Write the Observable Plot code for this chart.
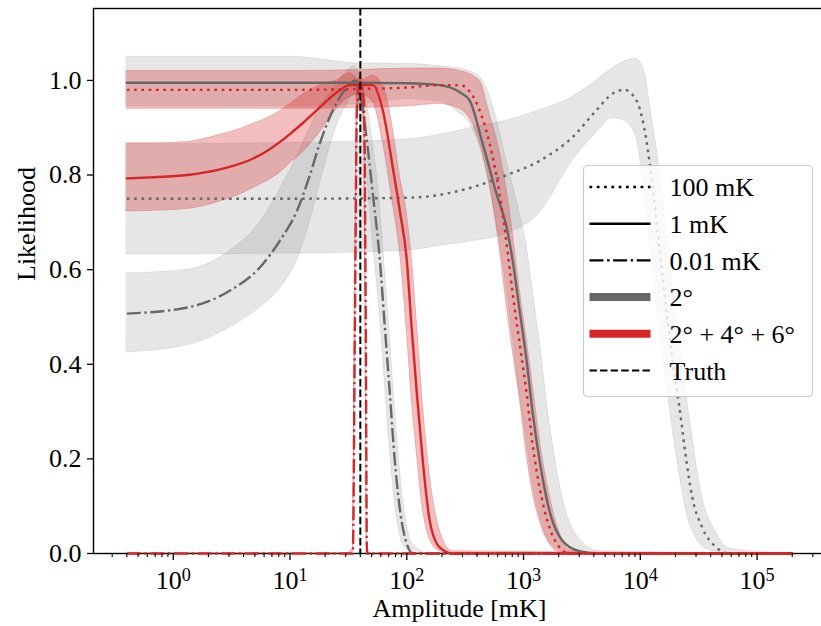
<!DOCTYPE html>
<html>
<head>
<meta charset="utf-8">
<script src="https://cdn.jsdelivr.net/npm/d3@7"></script>
<script src="https://cdn.jsdelivr.net/npm/@observablehq/plot@0.6"></script>
<style>
  body { margin: 0; background: #fff; }
  #wrap { position: relative; width: 821px; height: 626px; overflow: hidden; background: #fff; }
  #legend { position: absolute; left: 0; top: 0; }
</style>
</head>
<body>
<div id="wrap"><div id="chart"></div></div>
<script>
// ---------------- data ----------------
// 2°, 100 mK (gray dotted)
const gDot_x  = [0.4, 12.2, 100, 191, 363, 716, 1371, 2624, 4210, 5770, 7300, 9250, 10800, 12400, 14500, 17000, 19500, 21600, 24700, 27800, 33900, 44700, 57700, 2e5];
const gDot_y  = [0.75, 0.75, 0.752, 0.758, 0.774, 0.80, 0.83, 0.88, 0.937, 0.972, 0.98, 0.958, 0.90, 0.80, 0.65, 0.50, 0.38, 0.31, 0.20, 0.12, 0.055, 0.013, 0, 0];
const gDot_hi = [0.865, 0.868, 0.875, 0.885, 0.90, 0.915, 0.937, 0.965, 1.0, 1.025, 1.04, 1.045, 1.02, 0.93, 0.82, 0.67, 0.54, 0.45, 0.34, 0.25, 0.12, 0.045, 0.01, 0];
const gDot_lo = [0.632, 0.634, 0.64, 0.65, 0.66, 0.676, 0.72, 0.83, 0.89, 0.92, 0.915, 0.88, 0.76, 0.63, 0.48, 0.35, 0.24, 0.17, 0.09, 0.05, 0.015, 0.003, 0, 0];

// 2°, 1 mK (gray solid)
const gSol_x  = [0.4, 1, 10, 40, 100, 191, 284, 345, 446, 587, 716, 806, 925, 1062, 1194, 1371, 1667, 2154, 3010, 4470, 2e5];
const gSol_y  = [0.995, 0.995, 0.995, 0.995, 0.994, 0.99, 0.975, 0.958, 0.867, 0.76, 0.69, 0.62, 0.514, 0.408, 0.30, 0.197, 0.09, 0.027, 0.005, 0, 0];
const gSol_hi = [1.05, 1.05, 1.05, 1.036, 1.035, 1.03, 1.025, 1.02, 1.0, 0.92, 0.83, 0.78, 0.72, 0.65, 0.56, 0.45, 0.28, 0.12, 0.03, 0.005, 0];
const gSol_lo = [0.945, 0.945, 0.945, 0.95, 0.96, 0.955, 0.93, 0.91, 0.84, 0.70, 0.56, 0.46, 0.34, 0.24, 0.15, 0.08, 0.025, 0.005, 0, 0, 0];

// 2°, 0.01 mK (gray dash-dot)
const gDD_x  = [0.4, 1.32, 3.07, 5.54, 8.22, 11.5, 14.8, 18.0, 23.3, 30.7, 35.9, 38.2, 42.0, 51.2, 58.8, 64.9, 71.6, 78.9, 92.4, 113, 157, 2e5];
const gDD_y  = [0.507, 0.52, 0.556, 0.605, 0.662, 0.725, 0.80, 0.867, 0.937, 0.985, 1.0, 0.99, 0.937, 0.76, 0.62, 0.478, 0.338, 0.197, 0.055, 0, 0, 0];
const gDD_hi = [0.592, 0.60, 0.64, 0.70, 0.77, 0.84, 0.90, 0.945, 0.98, 1.02, 1.03, 1.02, 0.99, 0.87, 0.74, 0.60, 0.46, 0.31, 0.12, 0.02, 0, 0];
const gDD_lo = [0.425, 0.44, 0.478, 0.52, 0.56, 0.62, 0.70, 0.78, 0.88, 0.95, 0.97, 0.95, 0.88, 0.66, 0.50, 0.36, 0.22, 0.11, 0.02, 0, 0, 0];

// 2° + 4° + 6°, 100 mK (red dotted)
const rDot_x  = [0.4, 1, 10, 40, 100, 191, 284, 420, 512, 624, 716, 806, 925, 1062, 1194, 1371, 1667, 2032, 2472, 4470, 2e5];
const rDot_y  = [0.98, 0.98, 0.98, 0.982, 0.985, 0.99, 0.99, 0.937, 0.867, 0.76, 0.655, 0.55, 0.444, 0.338, 0.232, 0.14, 0.055, 0.013, 0, 0, 0];
const rDot_hi = [1.02, 1.02, 1.02, 1.022, 1.025, 1.025, 1.02, 1.0, 0.93, 0.85, 0.77, 0.68, 0.56, 0.455, 0.36, 0.245, 0.125, 0.045, 0.008, 0, 0];
const rDot_lo = [0.94, 0.94, 0.94, 0.942, 0.945, 0.95, 0.94, 0.87, 0.78, 0.645, 0.525, 0.43, 0.33, 0.21, 0.13, 0.07, 0.02, 0.003, 0, 0, 0];

// 2° + 4° + 6°, 1 mK (red solid)
const rSol_x  = [0.4, 0.636, 1.32, 2.52, 3.52, 4.83, 6.35, 8.22, 10.6, 12.9, 18.0, 25.2, 32.6, 40.4, 51.2, 62.3, 75.9, 87.1, 100, 110, 122, 137, 157, 191, 247, 2e5];
const rSol_y  = [0.793, 0.795, 0.80, 0.812, 0.822, 0.835, 0.851, 0.87, 0.892, 0.91, 0.943, 0.975, 0.99, 0.99, 0.99, 0.937, 0.816, 0.725, 0.62, 0.478, 0.338, 0.197, 0.07, 0.013, 0, 0];
const rSol_hi = [0.867, 0.867, 0.87, 0.885, 0.895, 0.908, 0.92, 0.935, 0.955, 0.97, 0.99, 1.0, 1.015, 1.0, 1.01, 0.99, 0.90, 0.80, 0.72, 0.63, 0.49, 0.32, 0.17, 0.05, 0.005, 0];
const rSol_lo = [0.723, 0.724, 0.728, 0.744, 0.756, 0.772, 0.787, 0.805, 0.83, 0.848, 0.89, 0.94, 0.965, 0.97, 0.955, 0.87, 0.74, 0.64, 0.47, 0.33, 0.21, 0.095, 0.03, 0.005, 0, 0];

// 2° + 4° + 6°, 0.01 mK (red dash-dot)
const rDD_x  = [0.4, 30, 34.5, 36, 37.5, 40, 43, 44.5, 45.6, 50, 2e5];
const rDD_y  = [0, 0, 0, 0.5, 0.95, 0.995, 0.95, 0.5, 0, 0, 0];
const rDD_hi = [0, 0, 0.01, 0.6, 0.98, 1.01, 0.98, 0.6, 0.01, 0, 0];
const rDD_lo = [0, 0, 0, 0.4, 0.9, 0.97, 0.9, 0.4, 0, 0, 0];

const truthAmplitude = [40];

const xMajorTicks = [1, 10, 100, 1e3, 1e4, 1e5];
const xMinorMantissas = [2, 3, 4, 5, 6, 7, 8, 9];
const xMinorDecades = [0.1, 1, 10, 100, 1e3, 1e4, 1e5];
const yTicks = [0, 0.2, 0.4, 0.6, 0.8, 1.0];

const legendLabels = ["100 mK", "1 mK", "0.01 mK", "2°", "2° + 4° + 6°", "Truth"];
const xLabel = "Amplitude [mK]";
const yLabel = "Likelihood";

// ---------------- styling ----------------
const GRAY = "#676767", RED = "#d62728";
const DOT = "2.7,4.6", DASHDOT = "14,3.6,2.4,3.6", DASH = "7.4,3.2";
const FONT = "'Liberation Serif', 'DejaVu Serif', serif";
const FS = 26;

const rows = (xs, ys, lo, hi) => xs.map((x, i) => ({x, y: ys[i], lo: lo[i], hi: hi[i]}));
const series = [
  {d: rows(gDot_x, gDot_y, gDot_lo, gDot_hi), color: GRAY, dash: DOT, cap: "butt", band: 0.2},
  {d: rows(gSol_x, gSol_y, gSol_lo, gSol_hi), color: GRAY, dash: null, cap: "round", band: 0.2},
  {d: rows(gDD_x, gDD_y, gDD_lo, gDD_hi), color: GRAY, dash: DASHDOT, cap: "butt", band: 0.2},
  {d: rows(rDot_x, rDot_y, rDot_lo, rDot_hi), color: RED, dash: DOT, cap: "butt", band: 0.3},
  {d: rows(rSol_x, rSol_y, rSol_lo, rSol_hi), color: RED, dash: null, cap: "round", band: 0.3},
  {d: rows(rDD_x, rDD_y, rDD_lo, rDD_hi), color: RED, dash: DASHDOT, cap: "butt", band: 0.3}
];

const xMinorTicks = xMinorDecades.flatMap(dec => xMinorMantissas.map(m => m * dec))
  .filter(v => v > 0.2075 && v < 3.855e5);

const bandMarks = series.map(s => Plot.areaY(s.d, {
  x: "x", y1: "lo", y2: "hi", curve: "monotone-x",
  fill: s.color === RED ? RED : "#808080", fillOpacity: s.band,
  stroke: s.color === RED ? RED : "#808080", strokeOpacity: s.band * 0.8, strokeWidth: 1
}));
const lineMarks = series.map(s => Plot.line(s.d, {
  x: "x", y: "y", curve: "monotone-x", stroke: s.color, strokeWidth: 2.4,
  strokeDasharray: s.dash, strokeLinecap: s.cap
}));

const chart = Plot.plot({
  width: 821, height: 626,
  marginLeft: 93, marginRight: -4, marginTop: 8, marginBottom: 73,
  x: {type: "log", domain: [0.2075, 3.855e5]},
  y: {domain: [0, 1.152]},
  style: {fontFamily: FONT, fontSize: FS + "px", color: "black", background: "white"},
  marks: [
    Plot.frame({stroke: "black", strokeWidth: 1.4}),
    ...bandMarks,
    ...lineMarks,
    Plot.ruleX(truthAmplitude, {stroke: "black", strokeWidth: 2, strokeDasharray: DASH, strokeLinecap: "butt"}),
    Plot.axisX(xMinorTicks, {tickSize: 4, tickFormat: () => "", label: null, strokeWidth: 1.1}),
    Plot.axisX(xMajorTicks, {tickSize: 7, tickPadding: 10, label: null, strokeWidth: 1.3,
      tickFormat: d => "10^" + Math.round(Math.log10(d))}),
    Plot.axisY(yTicks, {tickSize: 6, tickPadding: 6, label: null, strokeWidth: 1.3,
      tickFormat: d => d.toFixed(1)}),
    Plot.text([yLabel], {frameAnchor: "left", dx: -67, rotate: -90, fontSize: FS}),
    Plot.text([xLabel], {frameAnchor: "bottom", dy: 63, fontSize: FS})
  ]
});
document.getElementById("chart").appendChild(chart);

// superscripts for the decade labels
const NS = "http://www.w3.org/2000/svg";
chart.querySelectorAll("text").forEach(t => {
  const m = /^10\^(-?\d+)$/.exec(t.textContent.trim());
  if (!m) return;
  t.textContent = "";
  const base = document.createElementNS(NS, "tspan");
  base.textContent = "10";
  const sup = document.createElementNS(NS, "tspan");
  sup.textContent = m[1];
  sup.setAttribute("dy", "-0.42em");
  sup.setAttribute("font-size", "0.7em");
  t.appendChild(base); t.appendChild(sup);
});

// ---------------- legend (inside the axes, upper right) ----------------
const legendStyles = [
  {stroke: "black", width: 2.4, dash: DOT, cap: "butt"},
  {stroke: "black", width: 2.4, dash: null, cap: "butt"},
  {stroke: "black", width: 2.4, dash: DASHDOT, cap: "butt"},
  {stroke: GRAY, width: 8, dash: null, cap: "butt"},
  {stroke: RED, width: 8, dash: null, cap: "butt"},
  {stroke: "black", width: 2, dash: DASH, cap: "butt"}
];
const lg = d3.select("#wrap").append("svg").attr("id", "legend")
  .attr("width", 821).attr("height", 626)
  .style("font-family", FONT).style("font-size", FS + "px");
const box = {x: 583.5, y: 165.5, w: 229, h: 231};
lg.append("rect").attr("x", box.x).attr("y", box.y).attr("width", box.w).attr("height", box.h)
  .attr("rx", 4).attr("fill", "white").attr("fill-opacity", 0.8)
  .attr("stroke", "#cccccc").attr("stroke-width", 1.2);
legendLabels.forEach((lab, i) => {
  const cy = box.y + 21.5 + i * 36.7;
  const st = legendStyles[i];
  lg.append("line").attr("x1", box.x + 6).attr("x2", box.x + 67).attr("y1", cy).attr("y2", cy)
    .attr("stroke", st.stroke).attr("stroke-width", st.width)
    .attr("stroke-dasharray", st.dash).attr("stroke-linecap", st.cap);
  lg.append("text").attr("x", box.x + 86).attr("y", cy).attr("dy", "0.36em").text(lab);
});
</script>
</body>
</html>
